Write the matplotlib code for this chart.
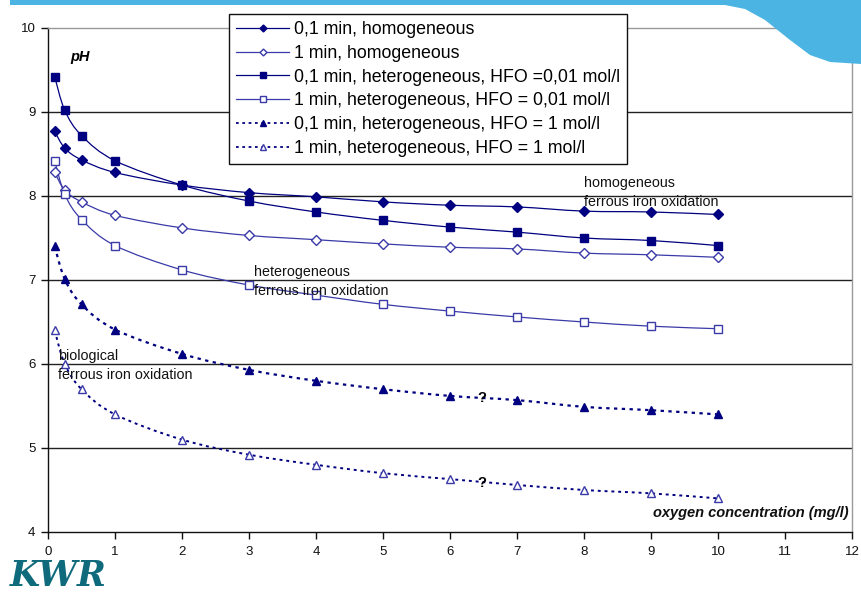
import matplotlib
matplotlib.use("Agg")
import matplotlib.pyplot as plt
from matplotlib.path import Path
from matplotlib.patches import PathPatch, Polygon
from matplotlib.lines import Line2D
import numpy as np

plt.rcParams["font.family"] = ["Liberation Sans", "DejaVu Sans"]

# oxygen concentration (mg/l)
oxygen = [0.1, 0.25, 0.5, 1, 2, 3, 4, 5, 6, 7, 8, 9, 10]

# pH values per scenario
ph_homog_01 = [8.77, 8.57, 8.43, 8.28, 8.13, 8.04, 7.99, 7.93, 7.89, 7.87, 7.82, 7.81, 7.78]
ph_homog_1 = [8.28, 8.07, 7.93, 7.77, 7.62, 7.53, 7.48, 7.43, 7.39, 7.37, 7.32, 7.30, 7.27]
ph_het001_01 = [9.42, 9.02, 8.72, 8.42, 8.13, 7.94, 7.81, 7.71, 7.63, 7.57, 7.50, 7.47, 7.41]
ph_het001_1 = [8.42, 8.02, 7.72, 7.41, 7.12, 6.94, 6.82, 6.71, 6.63, 6.56, 6.50, 6.45, 6.42]
ph_het1_01 = [7.40, 7.01, 6.71, 6.41, 6.12, 5.93, 5.80, 5.70, 5.62, 5.57, 5.49, 5.45, 5.40]
ph_het1_1 = [6.40, 6.00, 5.70, 5.40, 5.10, 4.92, 4.80, 4.70, 4.63, 4.56, 4.50, 4.46, 4.40]

labels = [
    "0,1 min, homogeneous",
    "1 min, homogeneous",
    "0,1 min, heterogeneous, HFO =0,01 mol/l",
    "1 min, heterogeneous, HFO = 0,01 mol/l",
    "0,1 min, heterogeneous, HFO = 1 mol/l",
    "1 min, heterogeneous, HFO = 1 mol/l",
]

x_ticks = list(range(0, 13))
y_ticks = [4, 5, 6, 7, 8, 9, 10]

NAVY = "#000080"
LIGHT = "#3a3aa8"

styles = [
    dict(series=ph_homog_01, marker="D", ms=5, mfc=NAVY, mec=NAVY, ls="-", lw=0.9, color=NAVY),
    dict(series=ph_homog_1, marker="D", ms=5, mfc="white", mec=LIGHT, ls="-", lw=0.9, color=LIGHT),
    dict(series=ph_het001_01, marker="s", ms=6, mfc=NAVY, mec=NAVY, ls="-", lw=0.9, color=NAVY),
    dict(series=ph_het001_1, marker="s", ms=6, mfc="white", mec=LIGHT, ls="-", lw=0.9, color=LIGHT),
    dict(series=ph_het1_01, marker="^", ms=6, mfc=NAVY, mec=NAVY, ls=(0, (1.5, 2.0)), lw=1.6, color=NAVY),
    dict(series=ph_het1_1, marker="^", ms=6, mfc="white", mec=LIGHT, ls=(0, (1.5, 2.0)), lw=1.4, color=NAVY),
]


def smooth_path(xs, ys):
    """Bezier path through the points, Excel style smoothing."""
    pts = np.column_stack([xs, ys]).astype(float)
    n = len(pts)
    verts = [pts[0]]
    codes = [Path.MOVETO]
    for i in range(n - 1):
        p0 = pts[i - 1] if i > 0 else pts[i]
        p1 = pts[i]
        p2 = pts[i + 1]
        p3 = pts[i + 2] if i + 2 < n else pts[i + 1]
        c1 = p1 + (p2 - p0) / 6.0
        c2 = p2 - (p3 - p1) / 6.0
        verts += [c1, c2, p2]
        codes += [Path.CURVE4] * 3
    return Path(verts, codes)


W, H = 861, 594
fig = plt.figure(figsize=(W / 100, H / 100), dpi=100)
fig.patch.set_facecolor("white")


def fx(px):
    return px / W


def fy(py):
    return 1 - py / H


# banner along the top edge
banner = Polygon(
    [(fx(10), 1.0), (fx(10), fy(5)), (fx(725), fy(5)),
     (fx(745), fy(9)), (fx(765), fy(20)), (fx(790), fy(40)),
     (fx(810), fy(55)), (fx(830), fy(62)), (fx(861), fy(64)),
     (1.0, 1.0)],
    closed=True, transform=fig.transFigure, facecolor="#4bb4e3", edgecolor="none", zorder=0)
fig.patches.append(banner)

ax = fig.add_axes([fx(48), fy(532), (852 - 48) / W, (532 - 28) / H])
ax.set_xlim(0, 12)
ax.set_ylim(4, 10)
ax.set_facecolor("none")

for y in y_ticks[1:-1]:
    ax.axhline(y, color="#222222", lw=1.0, zorder=1)

for s in styles:
    patch = PathPatch(smooth_path(oxygen, s["series"]), fill=False, edgecolor=s["color"],
                      lw=s["lw"], linestyle=s["ls"], zorder=2)
    ax.add_patch(patch)
    ax.plot(oxygen, s["series"], linestyle="none", marker=s["marker"], ms=s["ms"],
            mfc=s["mfc"], mec=s["mec"], mew=1.0, zorder=3)

ax.spines["left"].set_color("#111111")
ax.spines["bottom"].set_color("#111111")
ax.spines["top"].set_color("#999999")
ax.spines["right"].set_color("#999999")
for sp in ax.spines.values():
    sp.set_linewidth(1.0)

ax.set_xticks(x_ticks)
ax.set_yticks(y_ticks)
ax.tick_params(axis="both", direction="out", length=5, width=1, labelsize=9.5,
               colors="#111111", pad=4)
ax.tick_params(axis="x", pad=5)

# annotations
txt = dict(fontsize=10.3, color="#111111", zorder=4)
ax.text(0.33, 9.66, "pH", fontsize=10.5, fontweight="bold", fontstyle="italic",
        ha="left", va="center")
ax.text(8.0, 8.04, "homogeneous\nferrous iron oxidation", ha="left", va="center",
        linespacing=1.4, **txt)
ax.text(3.07, 6.98, "heterogeneous\nferrous iron oxidation", ha="left", va="center",
        linespacing=1.4, **txt)
ax.text(0.15, 5.98, "biological\nferrous iron oxidation", ha="left", va="center",
        linespacing=1.4, **txt)
ax.text(11.95, 4.23, "oxygen concentration (mg/l)", fontsize=10.5, fontweight="bold",
        fontstyle="italic", ha="right", va="center", color="#111111")
ax.text(6.48, 5.59, "?", fontsize=10.5, fontweight="bold", ha="center", va="center")
ax.text(6.48, 4.58, "?", fontsize=10.5, fontweight="bold", ha="center", va="center")

handles = [Line2D([], [], color=s["color"], lw=s["lw"] if s["lw"] < 1.2 else 1.3,
                  linestyle=s["ls"], marker=s["marker"], ms=s["ms"] - 1.5,
                  mfc=s["mfc"], mec=s["mec"]) for s in styles]
leg = fig.legend(handles, labels, loc="upper left",
                 bbox_to_anchor=(fx(229), fy(14)), bbox_transform=fig.transFigure,
                 fontsize=12.8, frameon=True, fancybox=False, edgecolor="#111111",
                 framealpha=1, handlelength=3.0, handletextpad=0.25, labelspacing=0.38,
                 borderpad=0.4, borderaxespad=0)
leg.get_frame().set_linewidth(1.0)
leg.set_zorder(10)

# logo
fig.text(fx(10), fy(593), "KWR", fontsize=25, fontweight="bold", color="#0f6b7c",
         family=["DejaVu Serif"], ha="left", va="bottom", fontstyle="italic")

fig.savefig("out.png", dpi=100)
